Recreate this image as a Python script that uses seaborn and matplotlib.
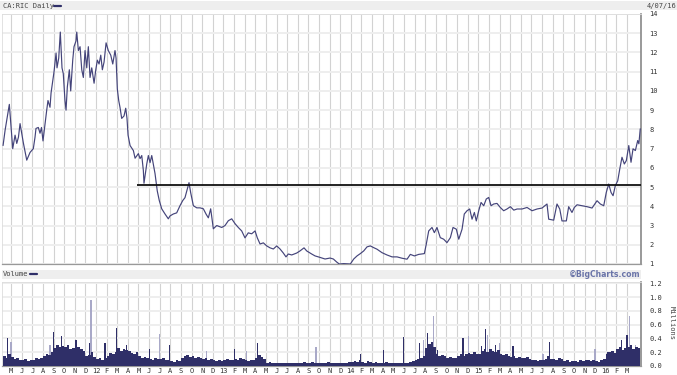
import numpy as np
import pandas as pd
import matplotlib
matplotlib.use("Agg")
import matplotlib.pyplot as plt
from matplotlib.patches import Rectangle
from matplotlib.lines import Line2D
import seaborn as sns

sns.set_style("white")
plt.rcParams['font.family'] = ['DejaVu Sans Mono', 'DejaVu Sans']

# ---- data (x = months since May 2011) ----
month_labels = ["M", "J", "J", "A", "S", "O", "N", "D",
                "12", "F", "M", "A", "M", "J", "J", "A", "S", "O", "N", "D",
                "13", "F", "M", "A", "M", "J", "J", "A", "S", "O", "N", "D",
                "14", "F", "M", "A", "M", "J", "J", "A", "S", "O", "N", "D",
                "15", "F", "M", "A", "M", "J", "J", "A", "S", "O", "N", "D",
                "16", "F", "M"]

price_t = [-0.75, -0.56, -0.16, 0.07, 0.16, 0.38, 0.54, 0.70, 0.85, 1.01, 1.16, 1.48, 1.79, 2.10, 2.26, 2.35,
           2.57, 2.73, 2.87, 3.01, 3.36, 3.48, 3.67, 3.77, 3.93, 4.05, 4.24, 4.33, 4.49, 4.64, 4.80, 4.92,
           5.08, 5.18, 5.30, 5.49, 5.62, 5.81, 5.93, 6.12, 6.19, 6.34, 6.50, 6.66, 6.81, 6.97, 7.13, 7.28,
           7.44, 7.60, 7.82, 7.98, 8.13, 8.29, 8.45, 8.60, 8.76, 8.95, 9.16, 9.39, 9.58, 9.79, 9.89, 10.01,
           10.14, 10.26, 10.42, 10.64, 10.80, 10.92, 11.02, 11.21, 11.52, 11.68, 11.99, 12.15, 12.31, 12.46,
           12.52, 12.78, 12.93, 13.09, 13.25, 13.40, 13.56, 13.77, 13.96, 14.19, 14.50, 14.81, 14.97, 15.28,
           15.60, 15.91, 16.17, 16.38, 16.60, 16.76, 16.92, 17.17, 17.49, 17.80, 18.11, 18.36, 18.58, 18.80,
           19.05, 19.37, 19.84, 20.15, 20.46, 20.78, 21.09, 21.40, 21.72, 22.03, 22.34, 22.66, 22.98, 23.19,
           23.45, 23.76, 24.08, 24.39, 24.70, 25.02, 25.33, 25.64, 25.89, 26.11, 26.43, 26.90, 27.21, 27.59,
           27.84, 28.31, 28.63, 28.94, 29.57, 30.04, 30.35, 30.67, 30.91, 31.33, 31.95, 32.27, 32.58, 32.89,
           33.21, 33.52, 33.83, 34.15, 34.46, 34.93, 35.40, 35.88, 36.35, 36.82, 37.29, 37.60, 37.98, 38.39,
           38.92, 39.10, 39.33, 39.64, 39.86, 40.11, 40.42, 40.74, 41.05, 41.37, 41.62, 41.93, 42.16, 42.47,
           42.68, 42.94, 43.19, 43.41, 43.63, 43.81, 44.04, 44.26, 44.51, 44.75, 44.98, 45.20, 45.45, 45.76,
           46.07, 46.39, 46.70, 47.02, 47.34, 47.65, 48.12, 48.59, 49.06, 49.53, 50.00, 50.47, 50.63, 51.10,
           51.41, 51.67, 51.88, 52.29, 52.51, 52.82, 53.04, 53.30, 53.77, 54.24, 54.71, 55.18, 55.49, 55.81,
           56.05, 56.28, 56.50, 56.69, 56.90, 57.13, 57.32, 57.53, 57.75, 57.94, 58.17, 58.38, 58.57, 58.79,
           59.01, 59.12, 59.25]
price = [7.16, 7.95, 9.3, 7.6, 7.0, 7.7, 7.27, 7.6, 8.3, 7.8, 7.3, 6.4, 6.8, 7.0, 7.6, 8.05,
         8.1, 7.8, 8.1, 7.4, 9.0, 9.5, 9.15, 9.9, 10.55, 11.0, 11.97, 11.2, 11.7, 13.06, 11.2, 10.9,
         9.5, 9.0, 10.2, 11.1, 10.0, 11.6, 12.3, 12.6, 13.06, 12.1, 12.3, 11.1, 10.7, 12.1, 11.2, 12.3,
         10.7, 11.2, 10.4, 11.1, 11.6, 11.4, 11.86, 11.1, 11.5, 12.5, 12.1, 11.86, 11.4, 12.1, 11.7, 10.1,
         9.5, 9.15, 8.57, 8.7, 9.1, 8.57, 7.7, 7.16, 6.9, 6.5, 6.74, 6.48, 6.64, 5.86,
         5.2, 6.2, 6.64, 6.27, 6.64, 6.2, 5.7, 4.8, 4.3, 3.87, 3.6, 3.35, 3.5, 3.6,
         3.66, 4.03, 4.3, 4.45, 4.9, 5.23, 4.7, 4.03, 3.92, 3.92, 3.87, 3.6, 3.4, 3.87,
         2.83, 3.0, 2.9, 3.0, 3.25, 3.35, 3.1, 2.9, 2.72, 2.36, 2.62, 2.57, 2.72, 2.36,
         2.04, 2.1, 1.94, 1.84, 1.78, 1.94, 1.78, 1.57, 1.37, 1.52, 1.47, 1.57, 1.68, 1.84,
         1.68, 1.52, 1.42, 1.37, 1.26, 1.31, 1.26, 1.1, 1.0, 1.02, 1.0, 1.26, 1.42, 1.54,
         1.68, 1.89, 1.94, 1.85, 1.77, 1.59, 1.47, 1.37, 1.37, 1.3, 1.25, 1.5, 1.42, 1.5,
         1.54, 2.03, 2.72, 2.9, 2.63, 2.9, 2.37, 2.29, 2.11, 2.37, 2.9, 2.81, 2.29, 2.81,
         3.6, 3.77, 3.86, 3.33, 3.68, 3.24, 3.77, 4.2, 4.03, 4.38, 4.46, 4.03, 4.12, 4.15,
         3.94, 3.77, 3.86, 3.98, 3.8, 3.86, 3.86, 3.94, 3.77, 3.86, 3.91, 4.12, 3.33, 3.28,
         4.12, 3.86, 3.24, 3.24, 3.98, 3.68, 3.94, 4.08, 4.03, 3.98, 3.91, 4.29, 4.12, 4.03,
         4.72, 5.16, 4.72, 4.55, 5.07, 5.33, 5.94, 6.55, 6.2, 6.38, 7.16, 6.29, 6.99, 6.9,
         7.42, 7.25, 8.03]

resistance_level = 5.12
resistance_start = 11.86

# weekly volume (millions), starting at t=-0.75, 4 per month
vol_week = [0.14, 0.12, 0.18,
            0.13, 0.10, 0.12, 0.09,  0.08, 0.10, 0.07, 0.09,  0.09, 0.11, 0.10, 0.12,  0.14, 0.18, 0.16, 0.20,
            0.26, 0.30, 0.27, 0.29,  0.27, 0.30, 0.24, 0.26,  0.24, 0.27, 0.25, 0.22,  0.14, 0.16, 0.20, 0.13,
            0.10, 0.12, 0.09, 0.11,  0.14, 0.19, 0.17, 0.21,  0.26, 0.22, 0.25, 0.23,  0.22, 0.19, 0.17, 0.20,
            0.15, 0.12, 0.13, 0.11,  0.10, 0.09, 0.11, 0.10,  0.10, 0.11, 0.09, 0.08,  0.07, 0.06, 0.08, 0.07,
            0.12, 0.15, 0.16, 0.13,  0.14, 0.12, 0.13, 0.11,  0.10, 0.11, 0.09, 0.10,  0.08, 0.07, 0.09, 0.07,
            0.09, 0.10, 0.08, 0.09,  0.10, 0.09, 0.11, 0.10,  0.08, 0.07, 0.09, 0.08,  0.12, 0.16, 0.13, 0.10,
            0.05, 0.06, 0.05, 0.04,  0.04, 0.05, 0.04, 0.04,  0.04, 0.04, 0.05, 0.04,  0.05, 0.04, 0.06, 0.05,
            0.05, 0.06, 0.05, 0.05,  0.05, 0.04, 0.05, 0.06,  0.05, 0.05, 0.04, 0.05,  0.04, 0.05, 0.05, 0.06,
            0.06, 0.07, 0.06, 0.08,  0.06, 0.05, 0.07, 0.06,  0.05, 0.06, 0.05, 0.04,  0.05, 0.06, 0.04, 0.05,
            0.05, 0.04, 0.05, 0.05,  0.04, 0.05, 0.06, 0.07,  0.08, 0.10, 0.12, 0.14,  0.26, 0.32, 0.35, 0.28,
            0.18, 0.15, 0.16, 0.14,  0.12, 0.13, 0.11, 0.12,  0.14, 0.18, 0.15, 0.17,  0.19, 0.17, 0.20, 0.18,
            0.18, 0.22, 0.25, 0.21,  0.24, 0.22, 0.20, 0.23,  0.18, 0.16, 0.17, 0.15,  0.13, 0.14, 0.12, 0.13,
            0.12, 0.11, 0.13, 0.10,  0.08, 0.09, 0.07, 0.08,  0.09, 0.10, 0.14, 0.10,  0.10, 0.09, 0.11, 0.10,
            0.07, 0.08, 0.06, 0.07,  0.07, 0.06, 0.08, 0.07,  0.08, 0.09, 0.07, 0.08,  0.07, 0.06, 0.08, 0.10,
            0.17, 0.20, 0.22, 0.19,  0.24, 0.27, 0.23, 0.26,  0.28, 0.30, 0.25, 0.27,
            0.26]

spike_t = [-0.35, 0.0, 3.67, 3.98, 4.77, 6.12, 7.37, 7.53, 8.85, 9.95, 10.89, 13.02, 13.96, 14.9,
           18.4, 21.0, 22.19, 23.19, 28.72, 32.89, 35.09, 36.98, 38.48, 38.86, 39.24, 39.80, 40.2,
           42.56, 43.10, 44.26, 44.66, 44.9, 45.6, 46.0, 47.27, 50.1, 50.72, 55.0, 56.2, 57.5,
           58.0, 58.26, 58.8]
spike_v = [0.41, 0.35, 0.31, 0.49, 0.44, 0.38, 0.34, 0.96, 0.33, 0.55, 0.30, 0.25, 0.47, 0.31,
           0.22, 0.25, 0.22, 0.34, 0.28, 0.17, 0.23, 0.42, 0.34, 0.38, 0.48, 0.72, 0.23,
           0.41, 0.44, 0.29, 0.54, 0.45, 0.30, 0.34, 0.29, 0.17, 0.35, 0.25, 0.20, 0.38,
           0.45, 0.72, 0.30]
spike_kind = ["d", "l", "l", "d", "d", "d", "d", "l", "d", "d", "d", "d", "l", "d",
              "l", "d", "l", "d", "l", "d", "d", "d", "d", "l", "d", "l", "d",
              "d", "l", "d", "d", "l", "d", "l", "d", "l", "d", "l", "d", "d",
              "d", "l", "l"]

price_ticks = list(range(1, 15))
vol_ticks = [0.0, 0.2, 0.4, 0.6, 0.8, 1.0, 1.2]

DARK = "#2f2f68"
LINE = "#44447a"
LIGHT = "#a9a9c8"
TXT = "#333333"
FS = 5

W, H = 677, 375
fig = plt.figure(figsize=(W / 100, H / 100), dpi=100)
fig.patch.set_facecolor("white")

def fx(px):
    return px / W

def fy(py):
    return 1 - py / H

ax1 = fig.add_axes([fx(2), fy(264), fx(639), 250 / H])
ax2 = fig.add_axes([fx(2), fy(366), fx(639), 84 / H])

xlim = (-0.85, 59.32)

# ---- price panel ----
df = pd.DataFrame({"t": price_t, "price": price})
sns.lineplot(data=df, x="t", y="price", ax=ax1, color=LINE, linewidth=0.85, zorder=3)
ax1.hlines(resistance_level, resistance_start, xlim[1], color="#111111", linewidth=1.3, zorder=4)
ax1.set_xlim(*xlim)
ax1.set_ylim(1, 14)
ax1.set_yticks(price_ticks)
ax1.set_yticklabels([str(v) for v in price_ticks])
ax1.set_xticks(range(len(month_labels)))
ax1.set_xticklabels([])
ax1.set_xlabel("")
ax1.set_ylabel("")

# ---- volume panel ----
week_t = -0.75 + 0.25 * np.arange(len(vol_week))
st = np.array(spike_t)
sv = np.array(spike_v)
sk = np.array(spike_kind)
ax2.bar(st[sk == "l"], sv[sk == "l"], width=0.12, color=LIGHT, align="center", linewidth=0, zorder=2)
ax2.bar(week_t, vol_week, width=0.25, color=DARK, align="edge", linewidth=0, zorder=3)
ax2.bar(st[sk == "d"], sv[sk == "d"], width=0.1, color=DARK, align="center", linewidth=0, zorder=3)
ax2.set_xlim(*xlim)
ax2.set_ylim(0, 1.22)
ax2.set_yticks(vol_ticks)
ax2.set_yticklabels([f"{v:.1f}" for v in vol_ticks])
ax2.set_xticks(range(len(month_labels)))
ax2.set_xticklabels(month_labels)

for ax in (ax1, ax2):
    ax.set_facecolor("white")
    ax.set_axisbelow(True)
    ax.grid(axis="x", color="#d2d2d2", linewidth=0.8)
    ax.grid(axis="y", color="#eeeeee", linewidth=1.4)
    ax.yaxis.tick_right()
    ax.tick_params(axis="y", length=0, pad=6, labelsize=FS, labelcolor=TXT)
    ax.tick_params(axis="x", length=0, pad=1.2, labelsize=FS, labelcolor=TXT)
    for s in ("left", "top"):
        ax.spines[s].set_color("#dddddd")
        ax.spines[s].set_linewidth(0.6)
    ax.spines["bottom"].set_color("#999999")
    ax.spines["bottom"].set_linewidth(0.9)
    ax.spines["right"].set_color("#888888")
    ax.spines["right"].set_linewidth(1.2)
    for lab in ax.get_yticklabels():
        lab.set_horizontalalignment("left")

# ---- header bands and labels ----
fig.patches.append(Rectangle((0, fy(10)), 1, 9 / H, transform=fig.transFigure,
                             facecolor="#eeeeee", edgecolor="none", zorder=0))
fig.patches.append(Rectangle((fx(2), fy(279)), fx(639), 9 / H, transform=fig.transFigure,
                             facecolor="#eeeeee", edgecolor="none", zorder=0))
fig.text(fx(3), fy(6), "CA:RIC Daily", fontsize=FS, color="#444444", va="center", ha="left")
fig.lines.append(Line2D([fx(54), fx(61)], [fy(5.5), fy(5.5)], transform=fig.transFigure,
                        color=DARK, linewidth=1.6))
fig.text(fx(676), fy(6), "4/07/16", fontsize=FS, color="#444444", va="center", ha="right")
fig.text(fx(3), fy(274.5), "Volume", fontsize=FS, color="#444444", va="center", ha="left")
fig.lines.append(Line2D([fx(30), fx(37)], [fy(274), fy(274)], transform=fig.transFigure,
                        color=DARK, linewidth=1.6))
fig.text(fx(640), fy(274.5), "\u00a9BigCharts.com", fontsize=5.6, color="#6a74a8",
         fontweight="bold", family="DejaVu Sans", va="center", ha="right")
fig.text(fx(672), fy(323), "Millions", fontsize=FS, color="#444444", va="center", ha="center",
         rotation=-90)

fig.savefig("out.png", dpi=100, facecolor="white")
